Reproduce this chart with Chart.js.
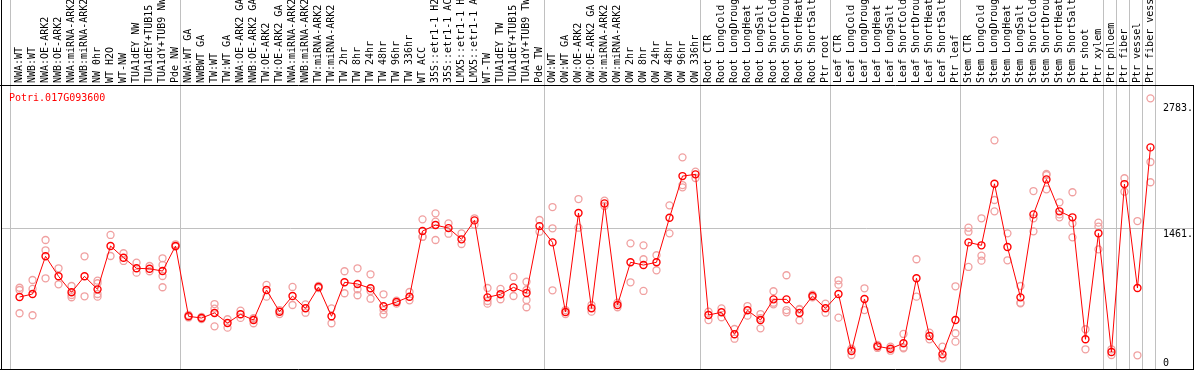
<!DOCTYPE html>
<html>
<head>
<meta charset="utf-8">
<script src="https://cdn.jsdelivr.net/npm/chart.js@4.4.1/dist/chart.umd.min.js"></script>
<style>
  html, body { margin: 0; padding: 0; background: #fff; }
  canvas { display: block; }
</style>
</head>
<body>
<canvas id="exprChart" width="1194" height="370"></canvas>
<script>
const geneId = 'Potri.017G093600';

const samples = [
  'NWA:WT', 'NWB:WT', 'NWA:OE-ARK2', 'NWB:OE-ARK2', 'NWA:miRNA-ARK2', 'NWB:miRNA-ARK2',
  'NW 0hr', 'WT H2O', 'WT-NW', 'TUA1dEY NW', 'TUA1dEY+TUB15 NW', 'TUA1dY+TUB9 NW', 'Pde NW',
  'NWA:WT GA', 'NWBWT GA', 'TW:WT', 'TW:WT GA', 'NWA:OE-ARK2 GA', 'NWB:OE-ARK2 GA',
  'TW:OE-ARK2', 'TW:OE-ARK2 GA', 'NWA:miRNA-ARK2 GA', 'NWB:miRNA-ARK2 GA', 'TW:miRNA-ARK2',
  'TW:miRNA-ARK2 GA', 'TW 2hr', 'TW 8hr', 'TW 24hr', 'TW 48hr', 'TW 96hr', 'TW 336hr', 'WT ACC',
  '35S::etr1-1 H2O', '35S::etr1-1 ACC', 'LMX5::etr1-1 H2O', 'LMX5::etr1-1 ACC', 'WT-TW',
  'TUA1dEY TW', 'TUA1dEY+TUB15 TW', 'TUA1dY+TUB9 TW', 'Pde TW',
  'OW:WT', 'OW:WT GA', 'OW:OE-ARK2', 'OW:OE-ARK2 GA', 'OW:miRNA-ARK2', 'OW:miRNA-ARK2 GA',
  'OW 2hr', 'OW 8hr', 'OW 24hr', 'OW 48hr', 'OW 96hr', 'OW 336hr',
  'Root CTR', 'Root LongCold', 'Root LongDrought', 'Root LongHeat', 'Root LongSalt',
  'Root ShortCold', 'Root ShortDrought', 'Root ShortHeat', 'Root ShortSalt', 'Ptr root',
  'Leaf CTR', 'Leaf LongCold', 'Leaf LongDrought', 'Leaf LongHeat', 'Leaf LongSalt',
  'Leaf ShortCold', 'Leaf ShortDrought', 'Leaf ShortHeat', 'Leaf ShortSalt', 'Ptr leaf',
  'Stem CTR', 'Stem LongCold', 'Stem LongDrought', 'Stem LongHeat', 'Stem LongSalt',
  'Stem ShortCold', 'Stem ShortDrought', 'Stem ShortHeat', 'Stem ShortSalt', 'Ptr shoot',
  'Ptr xylem', 'Ptr phloem', 'Ptr fiber', 'Ptr vessel', 'Ptr fiber vessel'
];

// number of samples in each block between grey separators
const groupSizes = [13, 28, 12, 10, 10, 11, 1, 1, 1, 1];

const means = [
  740, 771, 1167, 957, 789, 957, 820, 1275, 1152, 1041, 1036, 1012, 1275,
  537, 519, 572, 467, 558, 498, 813, 585, 750, 621, 844, 537, 894, 876, 831, 642, 687, 743,
  1432, 1495, 1463, 1345, 1544, 736, 768, 841, 782, 1484,
  1313, 582, 1621, 621, 1722, 656, 1104, 1075, 1104, 1571, 2009, 2027,
  551, 579, 348, 600, 498, 715, 715, 572, 750, 621,
  771, 173, 719, 222, 197, 254, 936, 330, 138, 498,
  1313, 1282, 1928, 1264, 736, 1607, 1974, 1639, 1576, 296, 1408,
  163, 1925, 834, 2310
];

const replicates = [
  [837, 813, 569], [918, 824, 548], [1338, 1230, 936], [1041, 873], [855, 761, 737],
  [1167, 747], [911, 884, 771, 743], [1391, 1170], [1199, 1118], [1100, 995], [1065, 1010],
  [1146, 1076, 960, 842], [1293, 1268],
  [551, 525], [530, 508], [666, 432, 618], [506, 418], [596, 520], [464, 512, 518],
  [866, 743], [603, 561], [845, 656], [663, 575], [855, 834], [621, 464], [1010, 779],
  [1041, 821, 758], [978, 803, 722], [768, 603, 558], [701, 670], [792, 705],
  [1555, 1373, 1370], [1618, 1338, 1530], [1513, 1404], [1408, 1296], [1566, 1499],
  [834, 670, 698], [824, 716], [950, 750], [900, 708, 632, 813], [1548, 1425],
  [1684, 1461, 810], [561, 603], [1768, 1467], [586, 656], [1751, 1695], [632, 680],
  [1303, 894], [1282, 1136, 803], [1178, 1020], [1702, 1408], [2206, 1915, 1891], [2055, 1989],
  [586, 498], [621, 527], [404, 302], [645, 544], [561, 411, 519], [800, 663, 680],
  [968, 603, 579], [614, 495, 607], [764, 737], [670, 575],
  [915, 869, 523], [131, 190, 198], [831, 603], [236, 205], [218, 176], [352, 202, 210],
  [1136, 743], [365, 295], [218, 103, 95], [852, 359, 271],
  [1467, 1425, 1055], [1566, 1173, 1121], [2384, 1758, 1639], [1408, 1125], [855, 674, 680],
  [1852, 1566, 1429], [2031, 1870, 2020], [1734, 1576, 1607], [1839, 1513, 1366], [401, 191],
  [1520, 1478, 1240],
  [191, 131], [1986, 1845], [1537, 128], [2825, 2157, 1944]
];

const yTicks = [0, 1461, 2783];

const monoFont = { family: "'DejaVu Sans Mono', monospace", size: 10 };

// grey separators, black frame, gene id and right-hand value labels
const framePlugin = {
  id: 'frame',
  beforeDatasetsDraw(chart) {
    const { ctx, width, height, scales: { x, y } } = chart;
    ctx.save();
    ctx.strokeStyle = '#c0c0c0';
    ctx.lineWidth = 1;
    const bounds = [-0.73];
    let pos = -0.65;
    groupSizes.forEach(n => { pos += n; bounds.push(pos); });
    bounds.forEach(b => {
      const px = Math.floor(x.getPixelForValue(b)) + 0.5;
      ctx.beginPath();
      ctx.moveTo(px, 0);
      ctx.lineTo(px, height);
      ctx.stroke();
    });
    // extend the mid gridline past the plot
    const gy = Math.floor(y.getPixelForValue(yTicks[1])) + 0.5;
    ctx.beginPath();
    ctx.moveTo(chart.chartArea.right, gy);
    ctx.lineTo(width, gy);
    ctx.stroke();
    ctx.restore();
  },
  afterDraw(chart) {
    const { ctx, width, height, chartArea, scales: { y } } = chart;
    ctx.save();
    ctx.strokeStyle = '#000';
    ctx.lineWidth = 1;
    ctx.beginPath();
    ctx.moveTo(0, Math.floor(chartArea.top) + 0.5);
    ctx.lineTo(width, Math.floor(chartArea.top) + 0.5);
    ctx.moveTo(0, Math.floor(chartArea.bottom) + 0.5);
    ctx.lineTo(width, Math.floor(chartArea.bottom) + 0.5);
    ctx.moveTo(1.5, 0);
    ctx.lineTo(1.5, height);
    ctx.moveTo(width - 0.5, chartArea.top);
    ctx.lineTo(width - 0.5, height);
    ctx.stroke();

    ctx.font = "10px 'DejaVu Sans Mono', monospace";
    ctx.textBaseline = 'alphabetic';
    ctx.textAlign = 'left';
    ctx.fillStyle = '#ff0000';
    ctx.fillText(geneId, 9, chartArea.top + 15.5);

    ctx.fillStyle = '#000';
    yTicks.forEach(v => {
      const py = y.getPixelForValue(v);
      const label = v === 0 ? '0' : v + '.';
      ctx.fillText(label, chartArea.right + 8, v === 0 ? py - 1 : py + 8.5);
    });
    ctx.restore();
  }
};

new Chart(document.getElementById('exprChart'), {
  type: 'line',
  data: {
    datasets: [
      {
        label: 'mean',
        data: means.map((v, i) => ({ x: i, y: v })),
        borderColor: '#ff0000',
        borderWidth: 1,
        pointRadius: 3.5,
        pointBorderWidth: 1.4,
        pointBorderColor: '#ff0000',
        pointBackgroundColor: 'rgba(0,0,0,0)',
        tension: 0,
        order: 0
      },
      {
        type: 'scatter',
        label: 'replicates',
        data: replicates.flatMap((reps, i) => reps.map(v => ({ x: i, y: v }))),
        showLine: false,
        pointRadius: 3.5,
        pointBorderWidth: 1.3,
        pointBorderColor: '#f0a0a0',
        pointBackgroundColor: 'rgba(0,0,0,0)',
        order: 1
      }
    ]
  },
  options: {
    responsive: false,
    animation: false,
    devicePixelRatio: 1,
    layout: { autoPadding: false, padding: { left: 2, right: 39, top: 0, bottom: 1 } },
    plugins: { legend: { display: false }, tooltip: { enabled: false } },
    scales: {
      x: {
        type: 'linear',
        position: 'top',
        min: -1.35,
        max: 87.35,
        grid: { display: false, drawTicks: false },
        border: { display: false },
        afterBuildTicks: s => { s.ticks = samples.map((_, i) => ({ value: i })); },
        afterFit: s => { s.height = 85; s.paddingLeft = 0; s.paddingRight = 0; },
        ticks: {
          autoSkip: false,
          minRotation: 90,
          maxRotation: 90,
          padding: 2,
          labelOffset: 12,
          color: '#000',
          font: monoFont,
          callback: v => samples[v] ?? ''
        }
      },
      y: {
        type: 'linear',
        position: 'right',
        min: -16,
        max: 2965,
        afterBuildTicks: s => { s.ticks = yTicks.map(v => ({ value: v })); },
        grid: {
          drawTicks: false,
          color: c => (c.tick && c.tick.value === yTicks[1] ? '#c0c0c0' : 'rgba(0,0,0,0)')
        },
        border: { display: false },
        ticks: { display: false }
      }
    }
  },
  plugins: [framePlugin]
});
</script>
</body>
</html>
